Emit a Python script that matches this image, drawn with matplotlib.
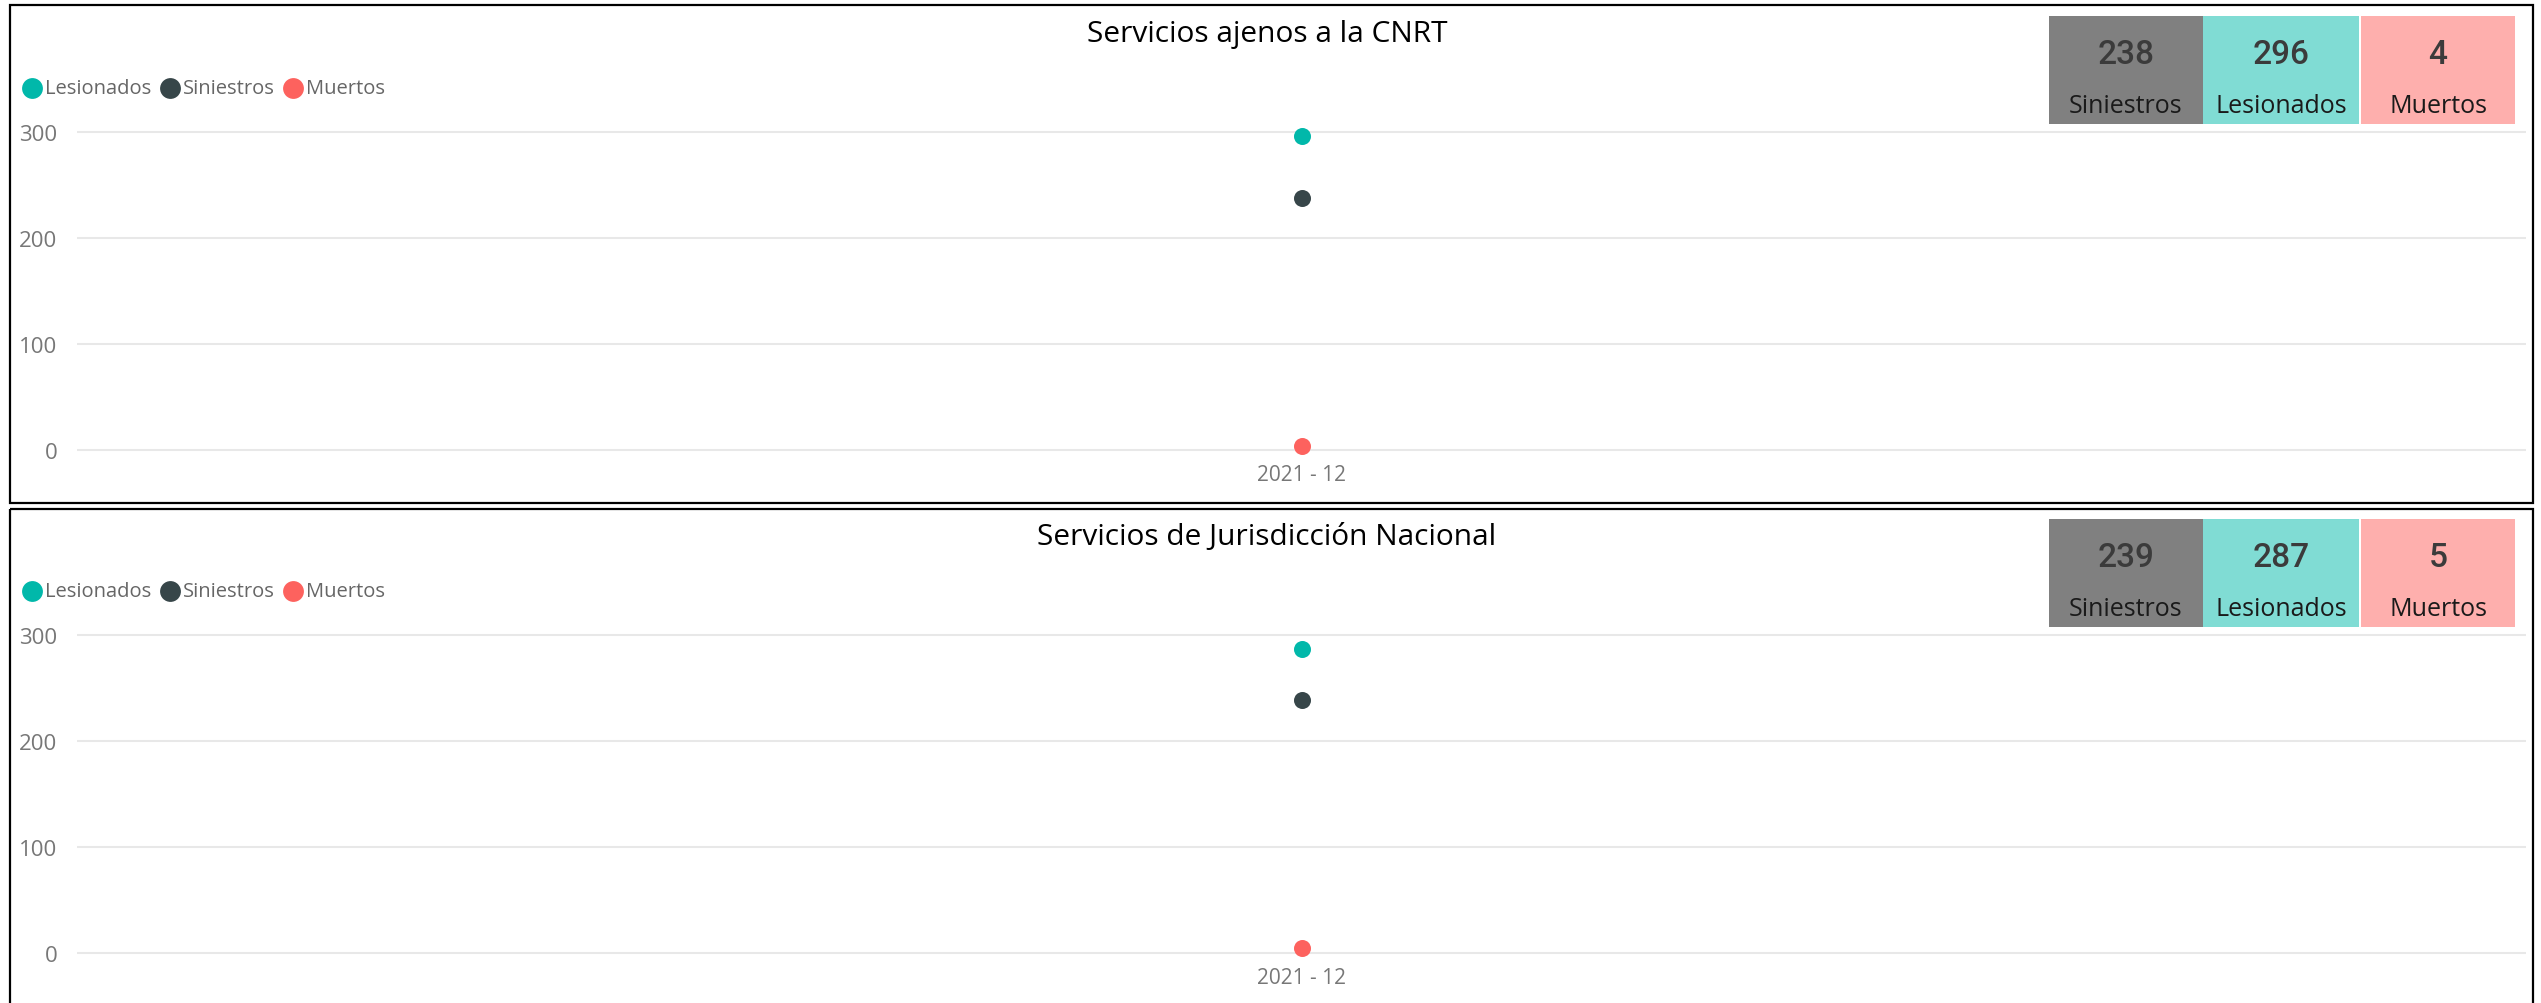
import matplotlib.pyplot as plt
from matplotlib.patches import Rectangle

# data per panel
periods = ["2021 - 12"]
titles = ["Servicios ajenos a la CNRT", "Servicios de Jurisdicción Nacional"]
lesionados = [296, 287]
siniestros = [238, 239]
muertos = [4, 5]

series_names = ["Lesionados", "Siniestros", "Muertos"]
series_colors = ["#01B8AA", "#374649", "#FD625E"]
card_names = ["Siniestros", "Lesionados", "Muertos"]
card_colors = ["#808080", "#80DCD4", "#FEAFAD"]

plt.rcParams['font.family'] = ['Open Sans', 'DejaVu Sans']

W, H = 2541, 1004
fig = plt.figure(figsize=(W / 100, H / 100), dpi=100)
fig.patch.set_facecolor('white')

PX = 1.06          # pixels per unit on the value axis
panel_step = 503   # vertical distance between the two panels
grid0 = 451        # pixel row of the zero line in the first panel
ax_left, ax_right = 77, 2526

for i in range(2):
    off = i * panel_step
    g0 = grid0 + off
    top, bottom = g0 - 330, g0 + 8
    ax = fig.add_axes([ax_left / W, 1 - bottom / H,
                       (ax_right - ax_left) / W, (bottom - top) / H])
    ax.set_facecolor('none')
    vals = [lesionados[i], siniestros[i], muertos[i]]
    for name, v, c in zip(series_names, vals, series_colors):
        ax.scatter(periods, [v], s=150, color=c, zorder=3, clip_on=False,
                   linewidths=0, label=name)
    ax.set_xlim(-1, 1)
    ax.set_ylim((g0 - bottom) / PX, (g0 - top) / PX)
    ax.set_yticks([0, 100, 200, 300])
    ax.grid(axis='y', color='#E8E8E8', linewidth=1.5)
    ax.set_axisbelow(True)
    for s in ax.spines.values():
        s.set_visible(False)
    ax.tick_params(axis='y', length=0, colors='#777777', labelsize=16, pad=14)
    ax.tick_params(axis='x', length=0, colors='#777777', labelsize=15, pad=4)

# overlay in pixel coordinates for frames, titles, legends and cards
ov = fig.add_axes([0, 0, 1, 1])
ov.set_xlim(0, W)
ov.set_ylim(H, 0)
ov.axis('off')

frame_tops = [6, 510]
for i in range(2):
    off = i * panel_step
    ov.add_patch(Rectangle((10, frame_tops[i]), 2523, 498, fill=False,
                           edgecolor='black', linewidth=1.6))
    ov.text(1267, 42 + off, titles[i], ha='center', va='baseline',
            fontsize=21.5, color='black')

    # legend
    lx = [32, 170, 293]
    for x, name, c in zip(lx, series_names, series_colors):
        ov.plot([x], [89 + off], marker='o', markersize=15, color=c,
                markeredgewidth=0)
        ov.text(x + 13, 89 + off, name, ha='left', va='center',
                fontsize=14.5, color='#666666')

    # summary cards
    card_vals = [siniestros[i], lesionados[i], muertos[i]]
    lefts = [2049, 2203, 2361]
    rights = [2203, 2359, 2515]
    for l, r, name, v, c in zip(lefts, rights, card_names, card_vals, card_colors):
        ov.add_patch(Rectangle((l, 17 + off), r - l, 108, facecolor=c,
                               edgecolor='none'))
        cx = (l + r) / 2
        ov.text(cx, 64 + off, str(v), ha='center', va='baseline',
                fontsize=24, fontweight='medium', color='#3b3b3b',
                family=['Roboto', 'DejaVu Sans'])
        ov.text(cx, 113 + off, name, ha='center', va='baseline',
                fontsize=18, color='#1a1a1a')

fig.savefig('out.png', dpi=100)
